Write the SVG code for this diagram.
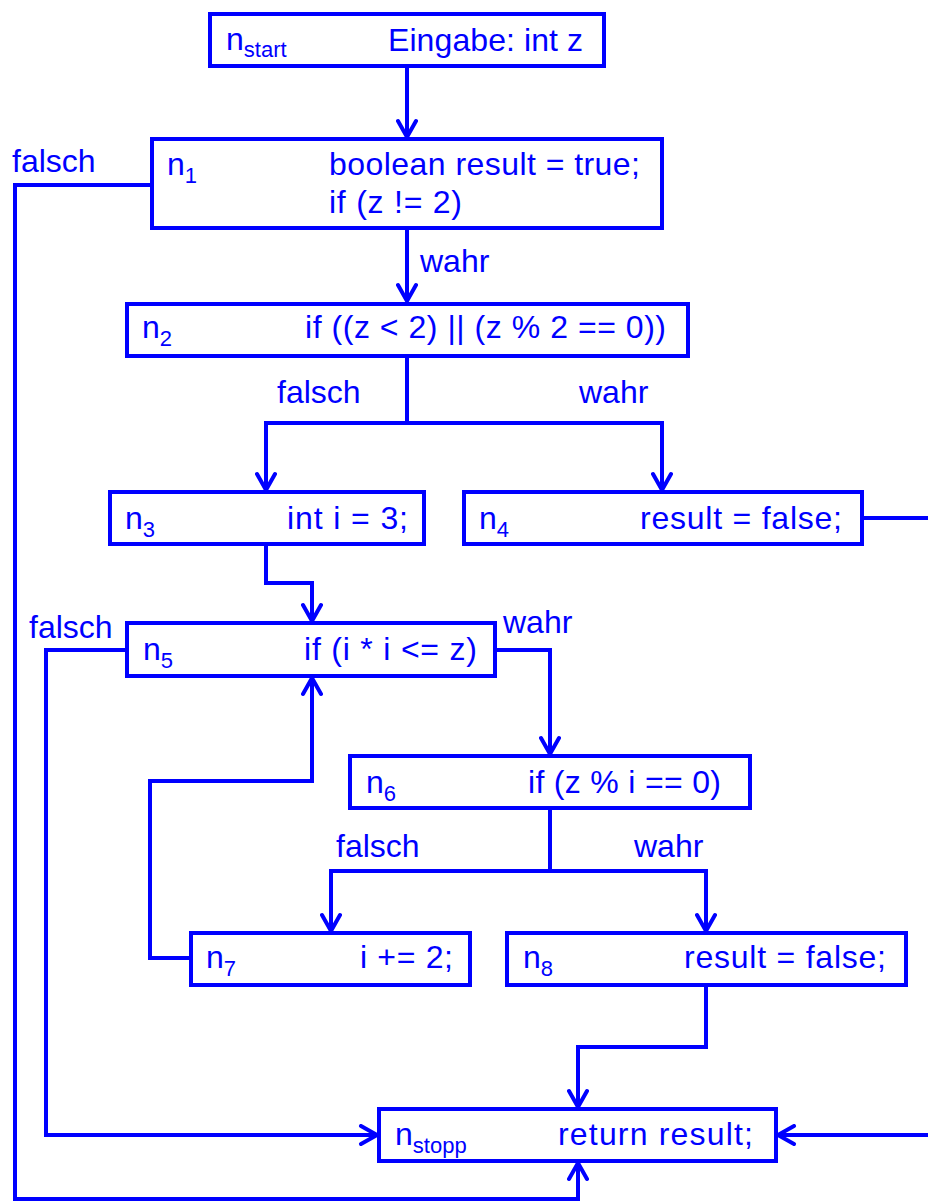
<svg xmlns="http://www.w3.org/2000/svg" width="928" height="1201" viewBox="0 0 928 1201">
<style>
  .box { fill: #ffffff; stroke: #0000ff; stroke-width: 4; }
  .t { font-family: "Liberation Sans", Arial, sans-serif; font-size: 32px; fill: #0000ff; }
  .sub { font-size: 22px; }
  .edge { fill: none; stroke: #0000ff; stroke-width: 4; stroke-linejoin: miter; }
</style>
<defs>
  <marker id="arr" markerUnits="userSpaceOnUse" markerWidth="22" markerHeight="22" viewBox="0 0 22 22" refX="19" refY="11" orient="auto">
    <path d="M3,2 L19,11 L3,20" fill="none" stroke="#0000ff" stroke-width="4" stroke-linejoin="round" stroke-linecap="round"/>
  </marker>
</defs>
<rect width="928" height="1201" fill="#ffffff"/>

<g id="connectors">
  <path class="edge" d="M407,68 V137" marker-end="url(#arr)"/>
  <path class="edge" d="M407,230 V301" marker-end="url(#arr)"/>
  <path class="edge" d="M150,185 H15 V1199 H578 V1163" marker-end="url(#arr)"/>
  <path class="edge" d="M407,358 V423 H266 V490" marker-end="url(#arr)"/>
  <path class="edge" d="M407,423 H662 V490" marker-end="url(#arr)"/>
  <path class="edge" d="M864,518 H932 V1135 H778" marker-end="url(#arr)"/>
  <path class="edge" d="M266,546 V583 H312 V621" marker-end="url(#arr)"/>
  <path class="edge" d="M125,650 H46 V1135 H377" marker-end="url(#arr)"/>
  <path class="edge" d="M497,650 H550 V754" marker-end="url(#arr)"/>
  <path class="edge" d="M550,810 V871 H331 V931" marker-end="url(#arr)"/>
  <path class="edge" d="M550,871 H706 V931" marker-end="url(#arr)"/>
  <path class="edge" d="M189,958 H150 V781 H312 V678" marker-end="url(#arr)"/>
  <path class="edge" d="M706,987 V1047 H578 V1107" marker-end="url(#arr)"/>
  <text class="t" x="12" y="172">falsch</text>
  <text class="t" x="420" y="272">wahr</text>
  <text class="t" x="277" y="403">falsch</text>
  <text class="t" x="579" y="403">wahr</text>
  <text class="t" x="29" y="638">falsch</text>
  <text class="t" x="503" y="633">wahr</text>
  <text class="t" x="336" y="857">falsch</text>
  <text class="t" x="634" y="857">wahr</text>
</g>

<g id="n_start">
  <rect class="box" x="210" y="14" width="394" height="52"/>
  <text class="t" x="226" y="50">n<tspan class="sub" dy="7">start</tspan></text>
  <text class="t" x="388" y="51" textLength="195">Eingabe: int z</text>
</g>
<g id="n1">
  <rect class="box" x="152" y="139" width="510" height="89"/>
  <text class="t" x="167" y="175">n<tspan class="sub" dy="8">1</tspan></text>
  <text class="t" x="329" y="175" textLength="311">boolean result = true;</text>
  <text class="t" x="329" y="213" textLength="133">if (z != 2)</text>
</g>
<g id="n2">
  <rect class="box" x="127" y="304" width="561" height="52"/>
  <text class="t" x="142" y="338">n<tspan class="sub" dy="8">2</tspan></text>
  <text class="t" x="305" y="338" textLength="361">if ((z &lt; 2) || (z % 2 == 0))</text>
</g>
<g id="n3">
  <rect class="box" x="110" y="492" width="314" height="52"/>
  <text class="t" x="125" y="529">n<tspan class="sub" dy="8">3</tspan></text>
  <text class="t" x="287" y="529" textLength="121">int i = 3;</text>
</g>
<g id="n4">
  <rect class="box" x="464" y="492" width="398" height="52"/>
  <text class="t" x="479" y="529">n<tspan class="sub" dy="8">4</tspan></text>
  <text class="t" x="640" y="529" textLength="202">result = false;</text>
</g>
<g id="n5">
  <rect class="box" x="127" y="623" width="368" height="53"/>
  <text class="t" x="143" y="660">n<tspan class="sub" dy="8">5</tspan></text>
  <text class="t" x="304" y="660" textLength="173">if (i * i &lt;= z)</text>
</g>
<g id="n6">
  <rect class="box" x="350" y="756" width="400" height="52"/>
  <text class="t" x="366" y="793">n<tspan class="sub" dy="8">6</tspan></text>
  <text class="t" x="528" y="793" textLength="193">if (z % i == 0)</text>
</g>
<g id="n7">
  <rect class="box" x="191" y="933" width="279" height="52"/>
  <text class="t" x="206" y="968">n<tspan class="sub" dy="8">7</tspan></text>
  <text class="t" x="360" y="968" textLength="93">i += 2;</text>
</g>
<g id="n8">
  <rect class="box" x="507" y="933" width="399" height="52"/>
  <text class="t" x="523" y="968">n<tspan class="sub" dy="8">8</tspan></text>
  <text class="t" x="684" y="968" textLength="202">result = false;</text>
</g>
<g id="n_stopp">
  <rect class="box" x="379" y="1109" width="397" height="52"/>
  <text class="t" x="395" y="1145">n<tspan class="sub" dy="8">stopp</tspan></text>
  <text class="t" x="558" y="1145" textLength="195">return result;</text>
</g>
</svg>
